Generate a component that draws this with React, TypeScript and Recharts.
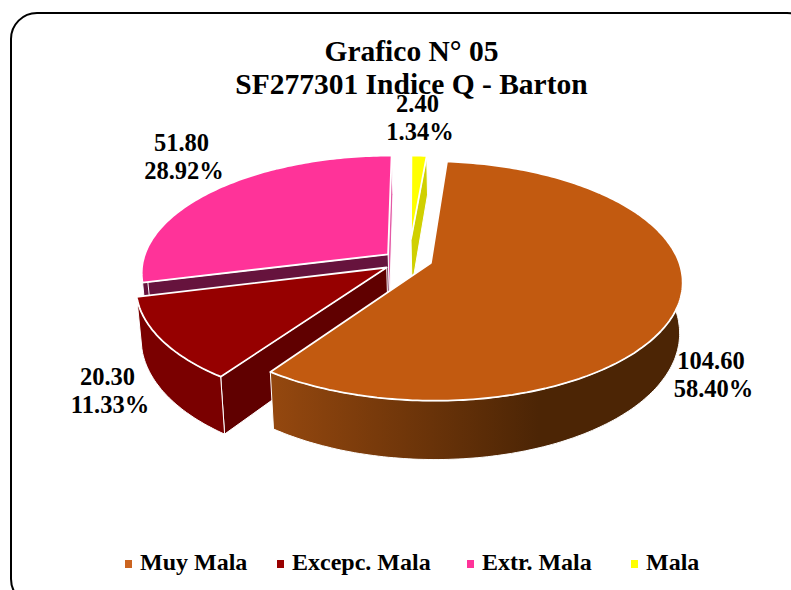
import { Legend, Pie, PieChart } from "recharts"

const categories = ["Muy Mala", "Excepc. Mala", "Extr. Mala", "Mala"]
const hours = [104.6, 20.3, 51.8, 2.4]
const topColors = ["#c25a10", "#960000", "#ff3399", "#ffff00"]
const legendColors = ["#cb6420", "#990000", "#ff3399", "#ffff00"]
const titleLines = ["Grafico N° 05", "SF277301 Indice Q - Barton"]

const total = hours.reduce((a, b) => a + b, 0)

// reversed + counter-clockwise so the slices paint back to front
const pieData = categories
  .map((name, i) => ({ name, value: hours[i], fill: topColors[i] }))
  .reverse()

// fake 3D: disc space -> screen with a bit of perspective
const PERSP = 0.149
const RX = 245
const RY = 115
const floorScale = 0.985
const floorShift = 70

const look: Record<string, any> = {
  "Muy Mala": { dx: 0.085, dy: 0.025, r: 1.01, side: "url(#brownSide)" },
  "Excepc. Mala": { dx: -0.094, dy: 0.065, r: 1, side: "#7a0000", cutA: "#600000" },
  "Extr. Mala": { dx: -0.09, dy: -0.05, r: 1, side: "#66133d", cutA: "#66133d", cutB: "#e35aa6" },
  Mala: { dx: 0.004, dy: -0.19, r: 0.86, side: "#d0d000", cutB: "#d0d000" },
}

const labelSpots: Record<string, number[]> = {
  "Muy Mala": [713.5, 361],
  "Excepc. Mala": [110, 377],
  "Extr. Mala": [184, 143],
  Mala: [420, 104],
}

const legendSpots = [125, 277, 467, 631]

function upper(cx: number, cy: number, u: number, v: number) {
  const f = 1 / (1 - PERSP * v)
  return { x: cx + RX * u * f, y: cy + RY * v * f, v }
}

function lower(cx: number, p: { x: number; y: number; v: number }) {
  const fx = cx + floorShift
  return { x: fx + (p.x - fx) * floorScale, y: p.y + 49 + 9.5 * p.v, v: p.v }
}

function toPath(pts: { x: number; y: number }[]) {
  return "M" + pts.map((p) => `${p.x.toFixed(1)},${p.y.toFixed(1)}`).join("L") + "Z"
}

function Slice3D(props: any) {
  const { cx, cy, startAngle, endAngle, name, fill } = props
  const s = look[name]
  let a = 90 - endAngle
  let b = 90 - startAngle
  if (a < 0) {
    a += 360
    b += 360
  }
  const rimPoint = (deg: number) => {
    const t = (deg * Math.PI) / 180
    return upper(cx, cy, s.dx + s.r * Math.sin(t), s.dy - s.r * Math.cos(t))
  }
  const arc = (from: number, to: number) => {
    const pts = []
    const n = Math.max(2, Math.ceil(to - from))
    for (let i = 0; i <= n; i++) pts.push(rimPoint(from + ((to - from) * i) / n))
    return pts
  }
  const apex = upper(cx, cy, s.dx, s.dy)
  const cutFace = (deg: number) => {
    const rim = rimPoint(deg)
    return toPath([apex, rim, lower(cx, rim), lower(cx, apex)])
  }
  // start a bit past 3 o'clock so the wall reaches the widest point of the rim
  const from = Math.max(a, 70)
  const to = Math.min(b, 270)
  const rim = from < to ? arc(from, to) : null

  return (
    <g>
      <defs>
        <linearGradient id="brownSide" x1="0" y1="0" x2="1" y2="0">
          <stop offset="0%" stopColor="#95480f" />
          <stop offset="65%" stopColor="#4c2505" />
          <stop offset="100%" stopColor="#4c2505" />
        </linearGradient>
      </defs>
      {s.cutB && <path d={cutFace(b)} fill={s.cutB} stroke="#fff" strokeWidth={1} />}
      {s.cutA && <path d={cutFace(a)} fill={s.cutA} stroke="#fff" strokeWidth={1} />}
      {rim && (
        <path
          d={toPath([...rim, ...rim.map((p) => lower(cx, p)).reverse()])}
          fill={s.side}
          stroke="#fff"
          strokeWidth={1}
        />
      )}
      <path d={toPath([apex, ...arc(a, b)])} fill={fill} stroke="#fff" strokeWidth={1.8} strokeLinejoin="round" />
    </g>
  )
}

function SliceLabel(props: any) {
  const { name, value } = props
  const [x, y] = labelSpots[name]
  return (
    <text textAnchor="middle" fontFamily="Liberation Serif" fontWeight="bold" fontSize={24.5} fill="#000">
      <tspan x={x - 2.5} y={y + 8}>
        {value.toFixed(2)}
      </tspan>
      <tspan x={x} y={y + 36}>
        {((value / total) * 100).toFixed(2)}%
      </tspan>
    </text>
  )
}

function LegendRow() {
  return (
    <div style={{ position: "relative", width: 791, height: 40 }}>
      {categories.map((name, i) => (
        <div key={name} style={{ position: "absolute", left: legendSpots[i], top: 0, whiteSpace: "nowrap", lineHeight: "30px" }}>
          <span
            style={{
              display: "inline-block",
              width: 7,
              height: 8,
              marginRight: 8,
              verticalAlign: "2px",
              background: legendColors[i],
            }}
          />
          {name}
        </div>
      ))}
    </div>
  )
}

export default function App() {
  return (
    <div
      style={{
        position: "absolute",
        left: 0,
        top: 0,
        width: 791,
        height: 590,
        overflow: "hidden",
        background: "#fff",
        fontFamily: "Liberation Serif",
        fontWeight: "bold",
      }}
    >
      <div
        style={{
          position: "absolute",
          left: 10,
          top: 12,
          width: 800,
          height: 590,
          border: "2.5px solid #000",
          borderRadius: 27,
        }}
      />
      <div
        style={{
          position: "absolute",
          left: 0,
          top: 35,
          width: 823,
          textAlign: "center",
          fontSize: 29.5,
          lineHeight: "33px",
        }}
      >
        {titleLines.map((t) => (
          <div key={t}>{t}</div>
        ))}
      </div>
      <div style={{ position: "absolute", left: 0, top: 0 }}>
        <PieChart width={791} height={590} margin={{ top: 0, right: 0, bottom: 0, left: 0 }}>
          <Pie
            data={pieData}
            dataKey="value"
            nameKey="name"
            cx={410}
            cy={260}
            outerRadius={RX}
            startAngle={85}
            endAngle={445}
            stroke="none"
            shape={Slice3D}
            label={SliceLabel}
            labelLine={false}
            isAnimationActive={false}
          />
          <Legend
            content={LegendRow}
            wrapperStyle={{ position: "absolute", left: 0, top: 547, width: 791, fontSize: 24 }}
          />
        </PieChart>
      </div>
    </div>
  )
}
